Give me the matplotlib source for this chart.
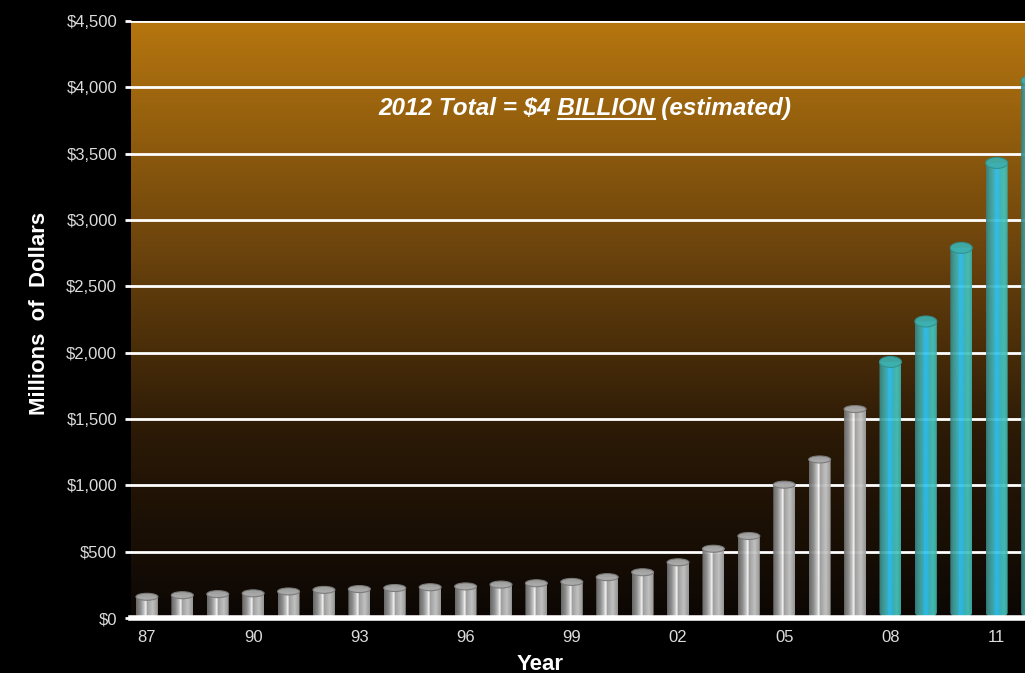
import numpy as np
import matplotlib
matplotlib.use('Agg')
import matplotlib.pyplot as plt
from matplotlib.colors import LinearSegmentedColormap
from matplotlib.patches import Ellipse, PathPatch
from matplotlib.path import Path
from matplotlib.lines import Line2D

# data (millions of dollars)
years = list(range(1987, 2013))
values = [160, 172, 180, 186, 200, 212, 218, 226, 232, 238, 252, 262, 272,
          308, 345, 420, 522, 618, 1005, 1195, 1575, 1930, 2235, 2790, 3430, 4050]
first_estimate = 2008
tick_years = [1987, 1990, 1993, 1996, 1999, 2002, 2005, 2008, 2011]
tick_labels = ['87', '90', '93', '96', '99', '02', '05', '08', '11']
y_ticks = [0, 500, 1000, 1500, 2000, 2500, 3000, 3500, 4000, 4500]
y_labels = ['\\$0', '\\$500', '\\$1,000', '\\$1,500', '\\$2,000', '\\$2,500',
            '\\$3,000', '\\$3,500', '\\$4,000', '\\$4,500']

narrow = ['Liberation Sans Narrow', 'Liberation Sans', 'DejaVu Sans']

W, H = 1025, 673
fig = plt.figure(figsize=(W / 100, H / 100), dpi=100, facecolor='black')
ax = fig.add_axes([131 / W, 55 / H, 1 - 131 / W, 597 / H])
ax.set_facecolor('black')
ax.set_xlim(1986.55, 2011.8)
ax.set_ylim(0, 4500)

# background gradient
bg = LinearSegmentedColormap.from_list('bg', [(0, '#0c0704'), (0.3, '#2a1906'),
                                             (0.6, '#68410c'), (1.0, '#b6760f')])
grad = np.linspace(0, 1, 256).reshape(-1, 1)
ax.imshow(grad, cmap=bg, origin='lower', aspect='auto',
          extent=[1986.55, 2011.8, 0, 4500], zorder=0)

for y in y_ticks[1:]:
    ax.axhline(y, color='white', lw=2, zorder=1)
ax.axhline(0, color='white', lw=4, zorder=5, clip_on=False)

silver = LinearSegmentedColormap.from_list('silver', [
    (0, '#707070'), (0.18, '#929292'), (0.36, '#cccccc'), (0.44, '#ffffff'),
    (0.52, '#a8a8a8'), (0.78, '#cacaca'), (1.0, '#a0a0a0')])
teal = LinearSegmentedColormap.from_list('teal', [
    (0, '#3a8282'), (0.12, '#3e9a98'), (0.28, '#42aeac'), (0.38, '#3ab8d0'),
    (0.42, '#30c4f0'), (0.58, '#30c4f0'), (0.64, '#3ebcc4'), (0.85, '#46c6bc'),
    (1.0, '#3cb0aa')])

bw = 0.62
px_per_unit = 597 / 4500
hgrad = np.linspace(0, 1, 22).reshape(1, -1)
for yr, v in zip(years, values):
    est = yr >= first_estimate
    cmap = teal if est else silver
    alpha = 0.93 if est else 0.96
    eh = (11 if est else 7) / px_per_unit
    x0, x1 = yr - bw / 2, yr + bw / 2
    t = np.linspace(np.pi, 2 * np.pi, 30)
    bottom = np.column_stack([yr + bw / 2 * np.cos(t), eh / 2 + eh / 2 * np.sin(t)])
    verts = np.vstack([[x0, v], bottom, [x1, v], [x0, v]])
    clip = PathPatch(Path(verts, closed=True), transform=ax.transData,
                     facecolor='none', edgecolor='none')
    ax.add_patch(clip)
    im = ax.imshow(hgrad, cmap=cmap, aspect='auto', extent=[x0, x1, 0, v],
                   alpha=alpha, zorder=3, interpolation='bilinear')
    im.set_clip_path(clip)
    cap_fc = '#3db0ae' if est else '#a8a8a8'
    cap_ec = '#2f9190' if est else '#7a7a7a'
    ax.add_patch(Ellipse((yr, v), bw, eh, facecolor=cap_fc, edgecolor=cap_ec,
                         lw=0.8, alpha=alpha, zorder=4))

for s in ax.spines.values():
    s.set_visible(False)
ax.set_xticks(tick_years)
ax.set_xticklabels(tick_labels)
ax.set_yticks(y_ticks)
ax.set_yticklabels(y_labels)
ax.tick_params(axis='x', length=0, pad=9, colors='#dcdcdc', labelsize=12)
ax.tick_params(axis='y', length=4, width=2, color='white', pad=6,
               labelcolor='#dcdcdc', labelsize=12)
for lab in ax.get_xticklabels() + ax.get_yticklabels():
    lab.set_family(narrow)

fig.text(40 / W, 1 - 313 / H, 'Millions  of  Dollars', rotation=90, color='white',
         fontsize=16, fontweight='bold', family=narrow, ha='center', va='center')
fig.text(540 / W, 1 - 664 / H, 'Year', color='white', fontsize=16,
         fontweight='bold', family=narrow, ha='center', va='center')

# annotation with underlined word
prefix = '2012 Total = \\$4 '
word = 'BILLION'
suffix = ' (estimated)'
kw = dict(color='white', fontsize=17.5, fontweight='bold', fontstyle='italic',
          family=narrow)
cx, by = 585, H - 115
full = fig.text(cx / W, by / H, prefix + word + suffix, ha='center', va='baseline', **kw)
fig.canvas.draw()
r = fig.canvas.get_renderer()
start = full.get_window_extent(r).x0
m1 = fig.text(0, 0, prefix + word, ha='left', va='baseline', **kw)
m2 = fig.text(0, 0, word, ha='left', va='baseline', **kw)
end = start + m1.get_window_extent(r).width
beg = end - m2.get_window_extent(r).width
m1.remove()
m2.remove()
fig.add_artist(Line2D([beg / W, end / W], [(by - 4) / H, (by - 4) / H],
                      transform=fig.transFigure, color='white', lw=1.5))

fig.savefig('out.png', dpi=100, facecolor='black')
